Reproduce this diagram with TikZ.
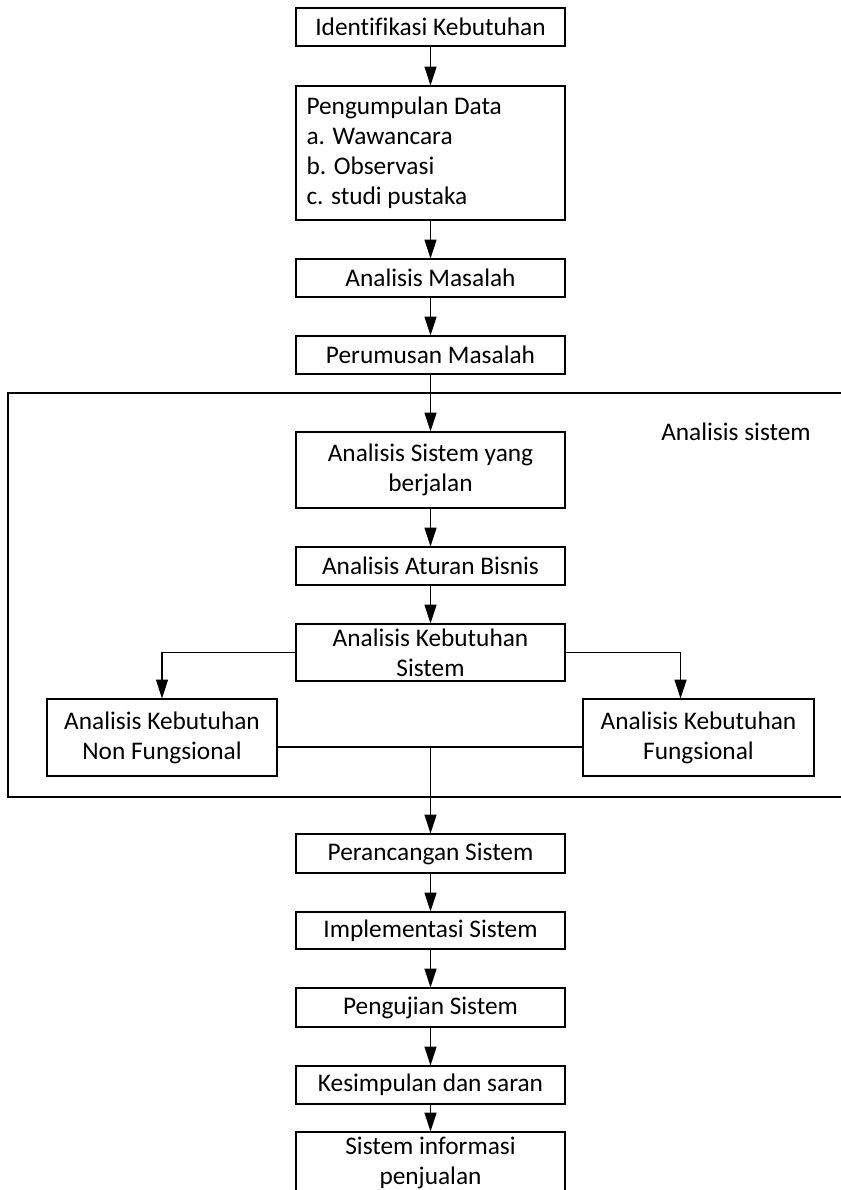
\documentclass[tikz,border=0pt]{standalone}
\usepackage{fontspec}
\setmainfont[Ligatures=NoCommon]{Carlito}
\usetikzlibrary{arrows.meta}
\begin{document}
\begin{tikzpicture}[x=0.75pt, y=-0.75pt, line width=1pt,
    every node/.style={font=\fontsize{19}{22.5}\selectfont, inner sep=0pt},
    box/.style={draw, rectangle, minimum width=201.75pt, align=center},
    arr/.style={-{Triangle[length=14pt,width=9pt]}}]
  \useasboundingbox (0,0) rectangle (841,1190);
  \node [box, minimum height=28.5pt] (ident) at (430.5,27) {Identifikasi Kebutuhan};
  \node [box, minimum height=100.5pt, text width=186pt, align=flush left] (kumpul) at (430.5,153) {Pengumpulan Data\\a. Wawancara\\b. Observasi\\c. studi pustaka};
  \node [box, minimum height=28.5pt] (masalah) at (430.5,278) {Analisis Masalah};
  \node [box, minimum height=28.5pt] (rumusan) at (430.5,355) {Perumusan Masalah};
  \node [box, minimum height=57pt] (berjalan) at (430.5,470) {Analisis Sistem yang\\berjalan};
  \node [box, minimum height=28.5pt] (bisnis) at (430.5,566) {Analisis Aturan Bisnis};
  \node [box, minimum height=42.75pt] (kebsis) at (430.5,652.5) {Analisis Kebutuhan\\Sistem};
  \node [box, minimum width=172.5pt, minimum height=57.75pt] (nonfung) at (162,737.5) {Analisis Kebutuhan\\Non Fungsional};
  \node [box, minimum width=173.25pt, minimum height=57.75pt] (fung) at (698.5,737.5) {Analisis Kebutuhan\\Fungsional};
  \node [box, minimum height=29.25pt] (rancang) at (430.5,853.5) {Perancangan Sistem};
  \node [box, minimum height=27.75pt] (implementasi) at (430.5,930.5) {Implementasi Sistem};
  \node [box, minimum height=29.25pt] (uji) at (430.5,1007.5) {Pengujian Sistem};
  \node [box, minimum height=28.5pt] (simpul) at (430.5,1085) {Kesimpulan dan saran};
  \node [box, minimum height=46.5pt] (sisinfo) at (430.5,1163) {Sistem informasi\\penjualan};
  \node (label) at (736,432) {Analisis sistem};
  \coordinate (gabung) at (430.5,747);
  \draw (841,393) -- (8,393) -- (8,797) -- (841,797);
  \draw [arr] (ident) -- (kumpul);
  \draw [arr] (kumpul) -- (masalah);
  \draw [arr] (masalah) -- (rumusan);
  \draw [arr] (rumusan) -- (berjalan);
  \draw [arr] (berjalan) -- (bisnis);
  \draw [arr] (bisnis) -- (kebsis);
  \draw [arr] (kebsis.west) -| (nonfung.north);
  \draw [arr] (kebsis.east) -| ([xshift=-13.5pt]fung.north);
  \draw ([yshift=-7pt]nonfung.east) -- ([yshift=-7pt]fung.west);
  \draw [arr] (gabung) -- (rancang);
  \draw [arr] (rancang) -- (implementasi);
  \draw [arr] (implementasi) -- (uji);
  \draw [arr] (uji) -- (simpul);
  \draw [arr] (simpul) -- (sisinfo);
\end{tikzpicture}
\end{document}
